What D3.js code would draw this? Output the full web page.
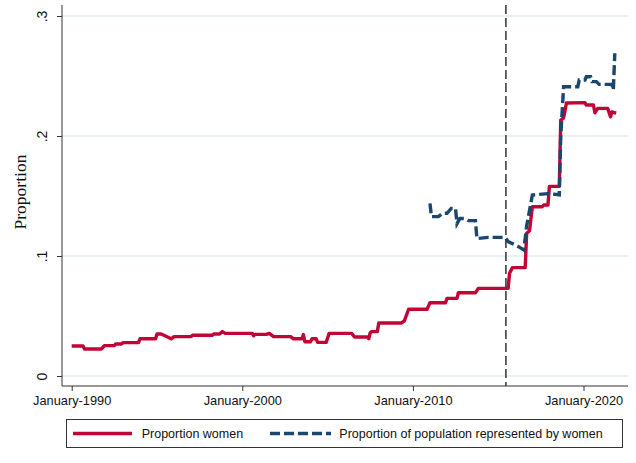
<!DOCTYPE html>
<html>
<head>
<meta charset="utf-8">
<script src="https://cdn.jsdelivr.net/npm/d3@7"></script>
<style>
body { margin: 0; background: #fff; }
text { font-family: "Liberation Sans", Arial, sans-serif; fill: #111; }
</style>
</head>
<body>
<svg id="chart" width="636" height="463"></svg>
<script>
// proportion women (monthly, change points)
let womenDates = ["1990-01","1990-09","1990-10","1991-10","1991-12","1992-07","1992-08","1992-12","1993-01","1993-12",
	"1994-01","1994-12","1995-01","1995-04","1995-11","1996-01","1997-01","1997-02","1998-04","1998-05",
	"1998-09","1998-11","1999-01","2000-08","2000-09","2000-10","2001-06","2001-08","2001-11","2002-11",
	"2003-01","2003-07","2003-08","2003-09","2004-01","2004-02","2004-05","2004-06","2004-12","2005-02",
	"2006-06","2006-08","2007-05","2007-06","2007-07","2007-08","2007-12","2008-01","2009-05","2009-07",
	"2009-10","2010-11","2011-01","2011-12","2012-01","2012-08","2012-09","2013-09","2013-11","2015-08",
	"2015-09","2015-11","2016-08","2016-09","2016-11","2017-01","2017-08","2017-09","2017-12","2018-01",
	"2018-08","2018-09","2018-11","2019-01","2020-02","2020-03","2020-08","2020-09","2020-11","2021-06",
	"2021-08","2021-09","2021-12"];
let womenValues = [0.025,0.025,0.0225,0.0225,0.0253,0.0253,0.0267,0.0267,0.0278,0.0278,
	0.031,0.031,0.035,0.035,0.031,0.0328,0.0328,0.034,0.034,0.035,
	0.035,0.037,0.0355,0.0355,0.0335,0.0347,0.0347,0.0355,0.0328,0.0328,
	0.031,0.031,0.0345,0.0286,0.0286,0.031,0.031,0.028,0.028,0.0355,
	0.0355,0.0325,0.0325,0.031,0.036,0.037,0.037,0.0442,0.0442,0.046,
	0.0556,0.0556,0.061,0.061,0.0647,0.0647,0.0694,0.0694,0.073,0.073,
	0.0856,0.0903,0.0903,0.119,0.121,0.141,0.141,0.1425,0.1425,0.158,
	0.158,0.2133,0.215,0.2275,0.2278,0.2258,0.2258,0.2194,0.223,0.223,
	0.216,0.220,0.219];

// proportion of population represented by women
let popDates = ["2011-01","2011-02","2011-07","2011-10","2012-01","2012-04","2012-07","2012-08","2012-10","2013-01",
	"2013-04","2013-09","2013-10","2014-06","2015-06","2015-08","2016-03","2016-07","2016-09","2017-01",
	"2017-12","2018-08","2018-09","2018-11","2019-09","2019-10","2020-02","2020-03","2020-06","2020-07",
	"2020-10","2020-12","2021-09","2021-10","2021-11"];
let popValues = [0.1439,0.1328,0.1328,0.1356,0.1356,0.1397,0.1397,0.127,0.1312,0.1312,
	0.1295,0.1295,0.1145,0.1155,0.1155,0.112,0.108,0.105,0.125,0.1508,
	0.152,0.151,0.2,0.2411,0.2411,0.2467,0.2467,0.2494,0.2494,0.2453,
	0.2453,0.243,0.243,0.2383,0.269];

let yTicks = [0, 0.1, 0.2, 0.3];
let xTicks = ["1990-01", "2000-01", "2010-01", "2020-01"];
let eventDate = "2015-06-15";
let legendLabels = ["Proportion women", "Proportion of population represented by women"];

let red = '#c10534', blue = '#1a476f';
let plotLeft = 62, plotRight = 628, plotTop = 5, plotBottom = 386;

let parseMonth = d3.timeParse('%Y-%m');
let parseDay = d3.timeParse('%Y-%m-%d');

let svg = d3.select('#chart');

let x = d3.scaleTime()
			.domain([parseMonth(xTicks[0]), parseMonth(xTicks[3])])
			.range([71.7, 583.5]);

let y = d3.scaleLinear()
			.domain([0, 0.3])
			.range([376, 16]);

// gridlines
svg.selectAll('line.grid')
		.data(yTicks)
	.enter().append('line')
		.attr('class', 'grid')
		.attr('x1', plotLeft).attr('x2', plotRight)
		.attr('y1', d => y(d)).attr('y2', d => y(d))
		.attr('stroke', '#e3ecef')
		.attr('stroke-width', 1.3);

// axes
let yAxis = svg.append('g')
		.attr('transform', 'translate(' + plotLeft + ',0)')
		.call(d3.axisLeft(y).tickValues(yTicks).tickSize(5).tickPadding(0)
			.tickFormat(d => d === 0 ? '0' : d3.format('.1f')(d).replace(/^0/, '')));
yAxis.select('.domain').remove();
yAxis.selectAll('.tick line').attr('stroke', '#333');
yAxis.selectAll('.tick text')
		.attr('transform', 'rotate(-90)')
		.attr('x', 0).attr('y', -15).attr('dy', 0)
		.attr('text-anchor', 'middle')
		.attr('font-size', '14px')
		.attr('font-family', '"Liberation Sans", Arial, sans-serif');

let xAxis = svg.append('g')
		.attr('transform', 'translate(0,' + plotBottom + ')')
		.call(d3.axisBottom(x).tickValues(xTicks.map(parseMonth)).tickSize(5)
			.tickFormat(d3.timeFormat('%B-%Y')));
xAxis.select('.domain').remove();
xAxis.selectAll('.tick line').attr('stroke', '#333');
xAxis.selectAll('.tick text')
		.attr('y', 10).attr('dy', '0.71em')
		.attr('font-size', '12.8px')
		.attr('font-family', '"Liberation Sans", Arial, sans-serif');

svg.append('line')
		.attr('x1', plotLeft).attr('x2', plotLeft).attr('y1', plotTop).attr('y2', plotBottom)
		.attr('stroke', '#333');
svg.append('line')
		.attr('x1', plotLeft).attr('x2', plotRight).attr('y1', plotBottom).attr('y2', plotBottom)
		.attr('stroke', '#333');

svg.append('text')
		.attr('transform', 'translate(25.5,192) rotate(-90)')
		.attr('text-anchor', 'middle')
		.style('font-family', '"Liberation Serif", "Times New Roman", serif')
		.attr('font-size', '17.5px')
		.text('Proportion');

// lines
let line = d3.line()
		.x(d => x(d.date))
		.y(d => y(d.value));

let women = womenDates.map((d, i) => ({ date: parseMonth(d), value: womenValues[i] }));
let pop = popDates.map((d, i) => ({ date: parseMonth(d), value: popValues[i] }));

svg.append('path')
		.datum(women)
		.attr('d', line)
		.attr('fill', 'none')
		.attr('stroke', red)
		.attr('stroke-width', 3.4)
		.attr('stroke-linejoin', 'round');

svg.append('path')
		.datum(pop)
		.attr('d', line)
		.attr('fill', 'none')
		.attr('stroke', blue)
		.attr('stroke-width', 3.4)
		.attr('stroke-dasharray', '10,4');

// event line
let ex = x(parseDay(eventDate));
svg.append('line')
		.attr('x1', ex).attr('x2', ex).attr('y1', plotTop).attr('y2', plotBottom)
		.attr('stroke', '#333')
		.attr('stroke-width', 1.5)
		.attr('stroke-dasharray', '9,4');

// legend
let legend = svg.append('g');
legend.append('rect')
		.attr('x', 66.5).attr('y', 419.5).attr('width', 556).attr('height', 28)
		.attr('fill', '#fff').attr('stroke', '#333');
legend.append('line')
		.attr('x1', 73).attr('x2', 132).attr('y1', 433.5).attr('y2', 433.5)
		.attr('stroke', red).attr('stroke-width', 3.4);
legend.append('line')
		.attr('x1', 270).attr('x2', 331).attr('y1', 433.5).attr('y2', 433.5)
		.attr('stroke', blue).attr('stroke-width', 3.4).attr('stroke-dasharray', '10,4');
legend.selectAll('text.lab')
		.data(legendLabels)
	.enter().append('text')
		.attr('class', 'lab')
		.attr('x', (d, i) => i === 0 ? 141.7 : 339.3)
		.attr('y', 438)
		.attr('font-size', '12.5px')
		.text(d => d);
</script>
</body>
</html>
